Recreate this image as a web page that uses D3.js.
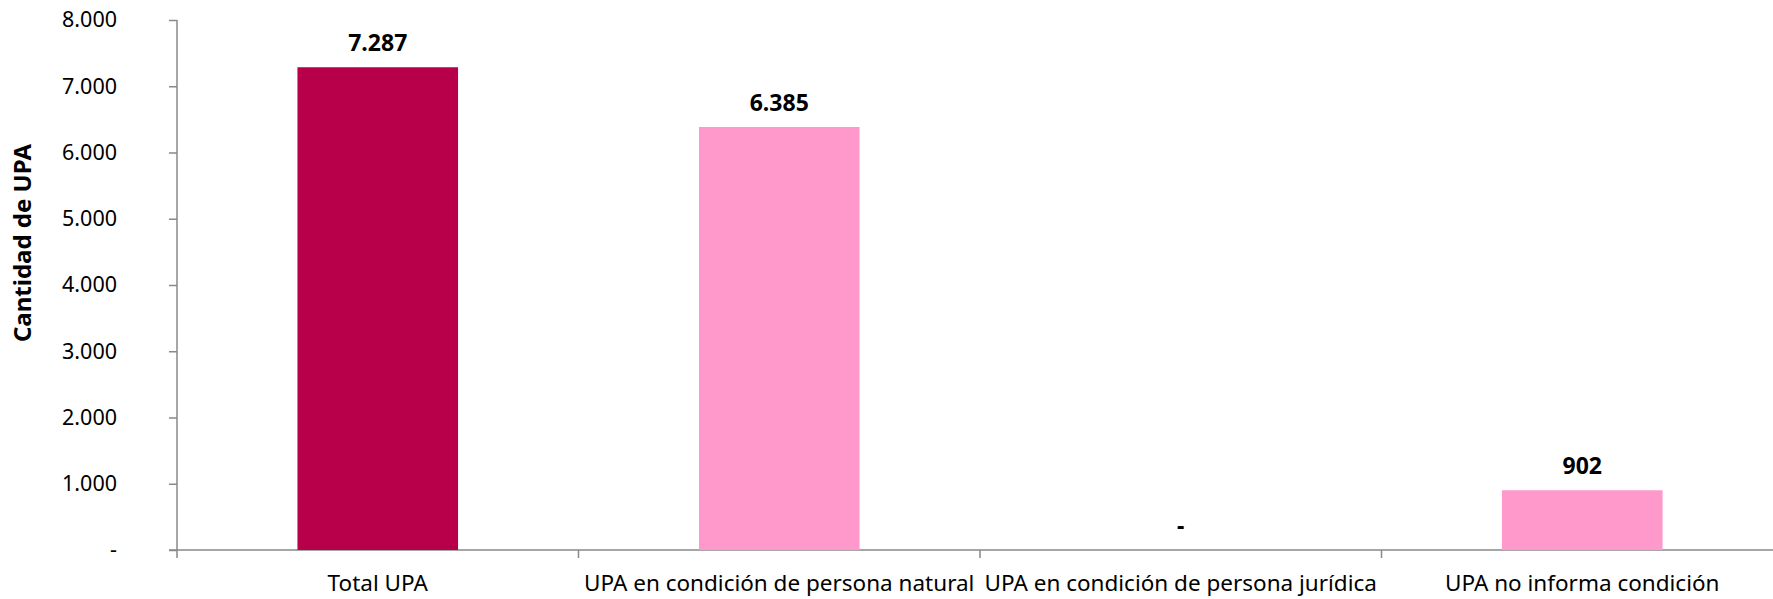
<!DOCTYPE html>
<html>
<head>
<meta charset="utf-8">
<script src="https://cdn.jsdelivr.net/npm/d3@7"></script>
<style>
  body { margin: 0; background: #fff; }
  text { font-family: "Noto Sans", "Open Sans", sans-serif; fill: #000; }
</style>
</head>
<body>
<div id="chart"></div>
<script>
// Chart data
var categories = [
    "Total UPA",
    "UPA en condición de persona natural",
    "UPA en condición de persona jurídica",
    "UPA no informa condición"
];
var values = [7287, 6385, 0, 902];
var barColors = ["#B8004A", "#FF99CC", "#FF99CC", "#FF99CC"];
var yTicks = [0, 1000, 2000, 3000, 4000, 5000, 6000, 7000, 8000];

var svgWidth = 1773;
var svgHeight = 599;

var margin = {
    top: 20,
    right: -10,
    bottom: 49,
    left: 177
};

var width = svgWidth - margin.left - margin.right;
var height = svgHeight - margin.top - margin.bottom;

// number format with dot thousands, dash for zero
function fmt(v) {
    if (v === 0) return "-";
    return String(v).replace(/\B(?=(\d{3})+(?!\d))/g, ".");
}

var svg = d3.select("#chart")
    .append("svg")
    .attr("width", svgWidth)
    .attr("height", svgHeight);

var chartGroup = svg.append("g")
    .attr("transform", `translate(${margin.left}, ${margin.top})`);

var xBandScale = d3.scaleBand()
    .domain(categories)
    .range([0, width])
    .paddingInner(0.6)
    .paddingOuter(0.3);

var yLinearScale = d3.scaleLinear()
    .domain([0, 8000])
    .range([height, 0]);

// y axis
var leftAxis = d3.axisLeft(yLinearScale)
    .tickValues(yTicks)
    .tickSize(8)
    .tickPadding(52)
    .tickFormat(fmt);

var yAxis = chartGroup.append("g")
    .call(leftAxis);
yAxis.select(".domain").attr("d", `M0,0V${height}`);
yAxis.selectAll("line, path").attr("stroke", "#898989").attr("stroke-width", 1.5);
yAxis.selectAll("text")
    .style("font-size", "21.5px")
    .attr("font-family", null);

// x axis - ticks between categories
var step = width / categories.length;
var xAxis = chartGroup.append("g")
    .attr("transform", `translate(0, ${height})`);
xAxis.append("line")
    .attr("x1", -8)
    .attr("x2", width)
    .attr("stroke", "#898989")
    .attr("stroke-width", 1.5);
xAxis.selectAll(".xtick")
    .data(d3.range(categories.length + 1))
    .enter()
    .append("line")
    .attr("x1", d => d * step)
    .attr("x2", d => d * step)
    .attr("y1", 0)
    .attr("y2", 8)
    .attr("stroke", "#898989")
    .attr("stroke-width", 1.5);
xAxis.selectAll(".xlabel")
    .data(categories)
    .enter()
    .append("text")
    .attr("x", d => xBandScale(d) + xBandScale.bandwidth() / 2)
    .attr("y", 41)
    .style("text-anchor", "middle")
    .style("font-size", "22.5px")
    .text(d => d);

// bars
chartGroup.selectAll("rect")
    .data(values)
    .enter()
    .append("rect")
    .attr("x", (d, i) => xBandScale(categories[i]))
    .attr("y", d => yLinearScale(d))
    .attr("width", xBandScale.bandwidth())
    .attr("height", d => height - yLinearScale(d))
    .attr("fill", (d, i) => barColors[i]);

// value labels
chartGroup.selectAll(".vlabel")
    .data(values)
    .enter()
    .append("text")
    .attr("x", (d, i) => xBandScale(categories[i]) + xBandScale.bandwidth() / 2)
    .attr("y", d => yLinearScale(d) - 16)
    .style("text-anchor", "middle")
    .style("font-size", "23px")
    .style("font-weight", "bold")
    .text(d => fmt(d));

// y axis title
svg.append("text")
    .attr("transform", "translate(31, 243) rotate(-90)")
    .style("text-anchor", "middle")
    .style("font-size", "24px")
    .style("font-weight", "bold")
    .text("Cantidad de UPA");
</script>
</body>
</html>
